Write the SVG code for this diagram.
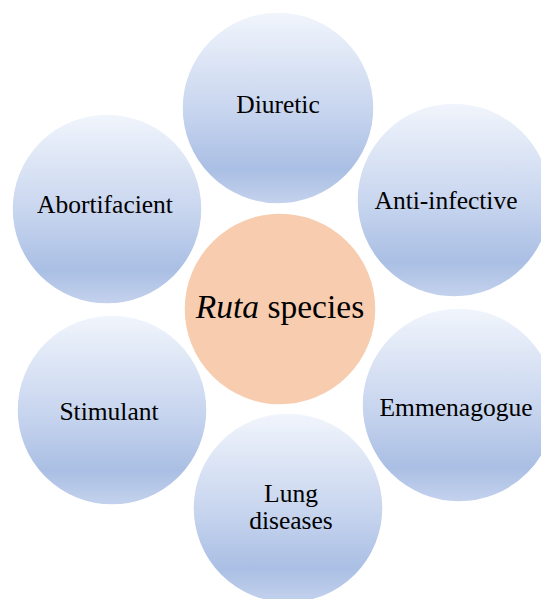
<svg xmlns="http://www.w3.org/2000/svg" width="541" height="599" viewBox="0 0 541 599">
<defs>
<linearGradient id="blue" x1="0" y1="0" x2="0" y2="1">
<stop offset="0" stop-color="#f1f5fc"/>
<stop offset="0.5" stop-color="#c9d6ef"/>
<stop offset="0.82" stop-color="#aabfe4"/>
<stop offset="1" stop-color="#c4d2ed"/>
</linearGradient>
</defs>
<style>
.b{fill:url(#blue);stroke:#ffffff;stroke-width:1.5}
.c{fill:#f8ccaf;stroke:#ffffff;stroke-width:1.5}
text{font-family:"Liberation Serif","Times New Roman",serif;font-size:25.5px;fill:#000;text-anchor:middle}
.big{font-size:33.5px}
</style>
<rect width="541" height="599" fill="#ffffff"/>
<g id="connectors"/>
<g id="center">
<circle class="c" cx="280" cy="309" r="96"/>
<text class="big" x="280" y="318"><tspan font-style="italic">Ruta</tspan> species</text>
</g>
<g id="diuretic">
<circle class="b" cx="278" cy="108" r="96"/>
<text x="278" y="113">Diuretic</text>
</g>
<g id="anti-infective">
<circle class="b" cx="454" cy="200" r="97"/>
<text x="446" y="209">Anti-infective</text>
</g>
<g id="emmenagogue">
<circle class="b" cx="459" cy="405" r="97"/>
<text x="456" y="416">Emmenagogue</text>
</g>
<g id="lung">
<circle class="b" cx="288" cy="508" r="95"/>
<text x="291" y="502">Lung</text>
<text x="291" y="529">diseases</text>
</g>
<g id="stimulant">
<circle class="b" cx="112" cy="410" r="95"/>
<text x="109" y="420">Stimulant</text>
</g>
<g id="abortifacient">
<circle class="b" cx="107" cy="209" r="95"/>
<text x="105" y="213">Abortifacient</text>
</g>
</svg>
